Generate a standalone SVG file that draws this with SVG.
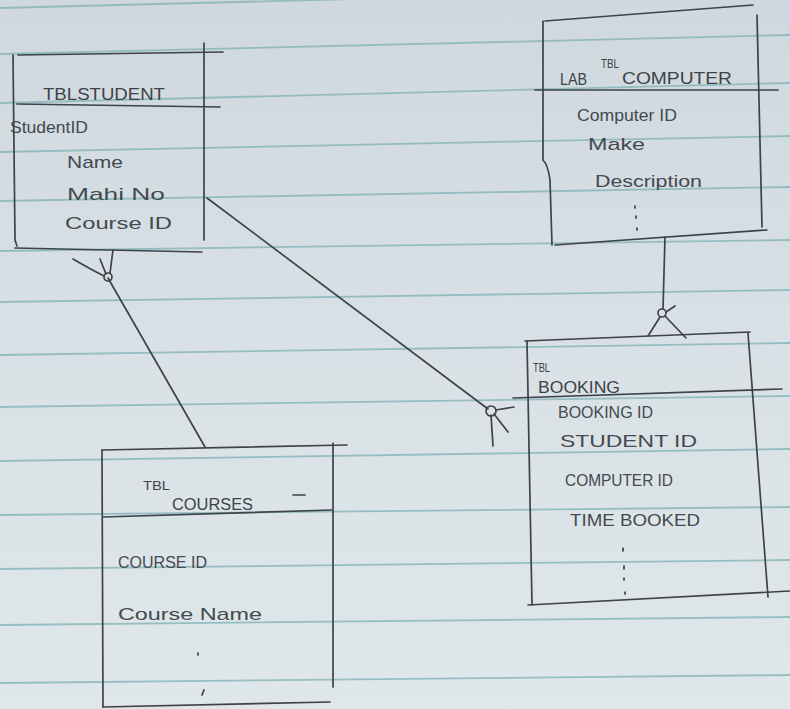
<svg xmlns="http://www.w3.org/2000/svg" width="790" height="709" viewBox="0 0 790 709">
  <defs>
    <linearGradient id="paper" x1="0" y1="0" x2="0" y2="1">
      <stop offset="0" stop-color="#cfd8de"/>
      <stop offset="0.5" stop-color="#d9e1e6"/>
      <stop offset="1" stop-color="#e0e7ea"/>
    </linearGradient>
    <style>
      .rule { stroke: #7fb0b4; stroke-width: 1.8; fill: none; opacity: 0.75; }
      .ink { stroke: #3d4348; stroke-width: 1.7; fill: none; stroke-linecap: round; stroke-linejoin: round; }
      .txt { font-family: "Liberation Sans", "DejaVu Sans", sans-serif; fill: #434a50; font-size: 17px; }
      .ttl { font-family: "Liberation Sans", "DejaVu Sans", sans-serif; fill: #3d4348; font-size: 16px; }
      .sm { font-family: "Liberation Sans", "DejaVu Sans", sans-serif; fill: #3d4348; font-size: 12px; }
    </style>
  </defs>

  <rect x="0" y="0" width="790" height="709" fill="url(#paper)"/>

  <g id="ruling">
    <line class="rule" x1="0" y1="8" x2="790" y2="-12"/>
    <line class="rule" x1="0" y1="54" x2="790" y2="35"/>
    <line class="rule" x1="0" y1="103" x2="790" y2="83"/>
    <line class="rule" x1="0" y1="152" x2="790" y2="136"/>
    <line class="rule" x1="0" y1="201" x2="790" y2="187"/>
    <line class="rule" x1="0" y1="251" x2="790" y2="240"/>
    <line class="rule" x1="0" y1="302" x2="790" y2="290"/>
    <line class="rule" x1="0" y1="355" x2="790" y2="343"/>
    <line class="rule" x1="0" y1="407" x2="790" y2="396"/>
    <line class="rule" x1="0" y1="461" x2="790" y2="449"/>
    <line class="rule" x1="0" y1="515" x2="790" y2="507"/>
    <line class="rule" x1="0" y1="569" x2="790" y2="560"/>
    <line class="rule" x1="0" y1="625" x2="790" y2="617"/>
    <line class="rule" x1="0" y1="683" x2="790" y2="675"/>
  </g>

  <g id="tbl-student">
    <path class="ink" d="M18 55 L223 52"/>
    <path class="ink" d="M13 55 L15 240 L17 246"/>
    <path class="ink" d="M204 43 L204 240"/>
    <path class="ink" d="M17 104 L220 107"/>
    <path class="ink" d="M15 248 L202 252"/>
    <text class="ttl" x="43" y="100" textLength="122" lengthAdjust="spacingAndGlyphs">TBLSTUDENT</text>
    <text class="txt" x="10" y="133" textLength="78" lengthAdjust="spacingAndGlyphs" font-size="15">StudentID</text>
    <text class="txt" x="67" y="168" textLength="56" lengthAdjust="spacingAndGlyphs">Name</text>
    <text class="txt" x="67" y="200" textLength="98" lengthAdjust="spacingAndGlyphs">Mahi No</text>
    <text class="txt" x="65" y="229" textLength="107" lengthAdjust="spacingAndGlyphs">Course ID</text>
  </g>

  <g id="tbl-lab-computer">
    <path class="ink" d="M545 21 L753 5"/>
    <path class="ink" d="M543 21 L543 160 Q548 165 550 180 L552 245"/>
    <path class="ink" d="M757 15 L762 227"/>
    <path class="ink" d="M535 90 L778 90"/>
    <path class="ink" d="M555 245 L767 230"/>
    <text class="ttl" x="560" y="85" textLength="27" lengthAdjust="spacingAndGlyphs">LAB</text>
    <text class="sm" x="601" y="68" textLength="18" lengthAdjust="spacingAndGlyphs">TBL</text>
    <text class="ttl" x="622" y="84" textLength="110" lengthAdjust="spacingAndGlyphs">COMPUTER</text>
    <text class="txt" x="577" y="121" textLength="100" lengthAdjust="spacingAndGlyphs" font-size="15">Computer ID</text>
    <text class="txt" x="588" y="150" textLength="57" lengthAdjust="spacingAndGlyphs" font-size="15">Make</text>
    <text class="txt" x="595" y="187" textLength="107" lengthAdjust="spacingAndGlyphs" font-size="15">Description</text>
    <path class="ink" d="M635 206 L635 208 M636 216 L636 218 M637 228 L637 230"/>
  </g>

  <g id="tbl-booking">
    <path class="ink" d="M525 341 L750 332"/>
    <path class="ink" d="M527 341 L532 605"/>
    <path class="ink" d="M748 333 L768 597"/>
    <path class="ink" d="M513 398 L782 389"/>
    <path class="ink" d="M528 605 L790 591"/>
    <text class="sm" x="533" y="372" textLength="17" lengthAdjust="spacingAndGlyphs">TBL</text>
    <text class="ttl" x="538" y="393" textLength="82" lengthAdjust="spacingAndGlyphs">BOOKING</text>
    <text class="txt" x="558" y="418" textLength="95" lengthAdjust="spacingAndGlyphs" font-size="13">BOOKING ID</text>
    <text class="txt" x="560" y="447" textLength="137" lengthAdjust="spacingAndGlyphs" font-size="15">STUDENT ID</text>
    <text class="txt" x="565" y="486" textLength="108" lengthAdjust="spacingAndGlyphs" font-size="14">COMPUTER ID</text>
    <text class="txt" x="570" y="526" textLength="130" lengthAdjust="spacingAndGlyphs" font-size="15">TIME BOOKED</text>
    <path class="ink" d="M623 548 L623 551 M624 566 L624 569 M624 578 L624 580 M625 592 L625 594"/>
  </g>

  <g id="tbl-courses">
    <path class="ink" d="M102 450 L347 445"/>
    <path class="ink" d="M102 450 L103 707"/>
    <path class="ink" d="M333 443 L333 687"/>
    <path class="ink" d="M103 517 L332 510"/>
    <path class="ink" d="M103 707 L330 702"/>
    <text class="sm" x="143" y="490" textLength="27" lengthAdjust="spacingAndGlyphs" font-size="14">TBL</text>
    <text class="ttl" x="172" y="510" textLength="81" lengthAdjust="spacingAndGlyphs" font-size="14">COURSES</text>
    <path class="ink" d="M293 495 L305 495"/>
    <text class="txt" x="118" y="568" textLength="89" lengthAdjust="spacingAndGlyphs" font-size="14">COURSE ID</text>
    <text class="txt" x="118" y="620" textLength="144" lengthAdjust="spacingAndGlyphs">Course Name</text>
    <path class="ink" d="M198 653 L198 655 M204 690 L202 695"/>
  </g>

  <g id="connectors">
    <path class="ink" d="M108 278 L205 447"/>
    <path class="ink" d="M73 259 Q92 270 104 276"/>
    <path class="ink" d="M100 259 L106 274" stroke-width="2.6"/>
    <path class="ink" d="M113 250 L110 273"/>
    <circle class="ink" cx="108" cy="277" r="4"/>
    <path class="ink" d="M207 198 L488 409"/>
    <circle class="ink" cx="491" cy="411" r="5"/>
    <path class="ink" d="M496 410 L514 407"/>
    <path class="ink" d="M491 415 L493 446"/>
    <path class="ink" d="M494 414 L508 432"/>
    <path class="ink" d="M665 237 L663 309"/>
    <circle class="ink" cx="662" cy="313" r="4"/>
    <path class="ink" d="M660 317 L648 336"/>
    <path class="ink" d="M665 316 L686 338"/>
    <path class="ink" d="M666 312 L675 306"/>
  </g>
</svg>
